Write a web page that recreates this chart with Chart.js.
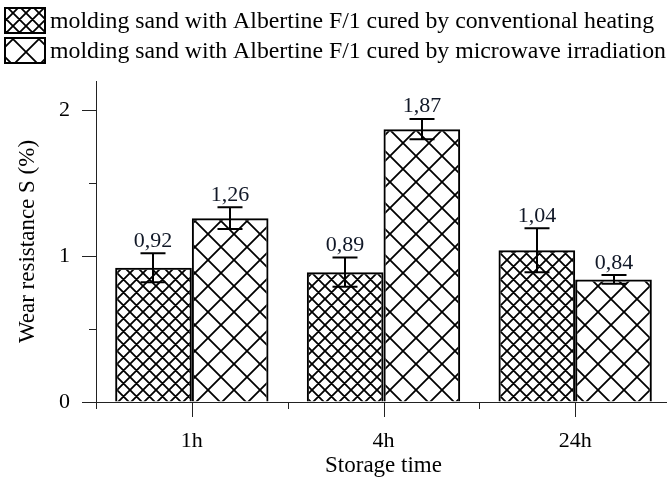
<!DOCTYPE html>
<html>
<head>
<meta charset="utf-8">
<script src="https://cdn.jsdelivr.net/npm/chart.js@4/dist/chart.umd.min.js"></script>
<style>
  html, body { margin: 0; padding: 0; background: #fff; overflow: hidden; }
  #wrap { width: 680px; height: 483px; }
</style>
</head>
<body>
<div id="wrap"><canvas id="chart" width="680" height="483"></canvas></div>
<script>
// storage times and measured wear resistance S (%)
const storageTimes = ["1h", "4h", "24h"];
const conventional = [0.92, 0.89, 1.04];
const microwave = [1.26, 1.87, 0.84];
const conventionalErr = [0.10, 0.10, 0.15];
const microwaveErr = [0.075, 0.07, 0.03];
const seriesLabels = [
    "molding sand with Albertine F/1 cured by conventional heating",
    "molding sand with Albertine F/1 cured by microwave irradiation"
];
const yTickLabels = ["0", "1", "2"];

const SERIF = "'Liberation Serif', 'Times New Roman', serif";

function makeTile(size) {
    const c = document.createElement("canvas");
    c.width = size;
    c.height = size;
    const g = c.getContext("2d");
    g.strokeStyle = "#000";
    g.lineWidth = 1.8;
    g.beginPath();
    for (let k = -1; k <= 1; k++) {
        g.moveTo(-2 + k * size, -2);
        g.lineTo(size + 2 + k * size, size + 2);
        g.moveTo(size + 2 + k * size, -2);
        g.lineTo(-2 + k * size, size + 2);
    }
    g.stroke();
    return c;
}

const ctx = document.getElementById("chart").getContext("2d");
const fineHatch = ctx.createPattern(makeTile(13), "repeat");
const wideHatch = ctx.createPattern(makeTile(26), "repeat");

const errors = [conventionalErr, microwaveErr];

// axis ticks: long at labelled values, short in between
const axisTicks = {
    id: "axisTicks",
    afterDraw(chart) {
        const { ctx, scales: { x, y }, chartArea } = chart;
        ctx.save();
        ctx.strokeStyle = "#222";
        ctx.lineWidth = 1;
        ctx.beginPath();
        for (let v = 0; v <= 2; v += 0.5) {
            const py = Math.round(y.getPixelForValue(v)) + 0.5;
            const len = Number.isInteger(v) ? 14 : 7;
            ctx.moveTo(chartArea.left - len, py);
            ctx.lineTo(chartArea.left, py);
        }
        const n = storageTimes.length;
        for (let i = 0; i < n; i++) {
            const px = Math.round(x.getPixelForValue(i)) + 0.5;
            ctx.moveTo(px, chartArea.bottom);
            ctx.lineTo(px, chartArea.bottom + 15);
        }
        for (let i = 0; i <= n; i++) {
            const px = Math.round(x.getPixelForValue(i - 0.5)) + 0.5;
            ctx.moveTo(px, chartArea.bottom);
            ctx.lineTo(px, chartArea.bottom + 7);
        }
        ctx.stroke();
        ctx.restore();
    }
};

// error bars and value labels
const errorBars = {
    id: "errorBars",
    afterDatasetsDraw(chart) {
        const { ctx, scales: { y } } = chart;
        ctx.save();
        chart.data.datasets.forEach((ds, di) => {
            const meta = chart.getDatasetMeta(di);
            meta.data.forEach((bar, i) => {
                const v = ds.data[i];
                const e = errors[di][i];
                const top = y.getPixelForValue(v + e);
                const bot = y.getPixelForValue(v - e);
                const cx = Math.round(bar.x);
                ctx.strokeStyle = "#000";
                ctx.lineWidth = 2;
                ctx.beginPath();
                ctx.moveTo(cx, top);
                ctx.lineTo(cx, bot);
                ctx.moveTo(cx - 12.5, top);
                ctx.lineTo(cx + 12.5, top);
                ctx.moveTo(cx - 12.5, bot);
                ctx.lineTo(cx + 12.5, bot);
                ctx.stroke();
                ctx.fillStyle = "#111827";
                ctx.font = "22px " + SERIF;
                ctx.textAlign = "center";
                ctx.textBaseline = "alphabetic";
                ctx.fillText(v.toFixed(2).replace(".", ","), cx, top - 6.5);
            });
        });
        ctx.restore();
    }
};

// legend in the top-left corner, one row per series
const boxLegend = {
    id: "boxLegend",
    afterDraw(chart) {
        const { ctx } = chart;
        ctx.save();
        chart.data.datasets.forEach((ds, i) => {
            const bx = 5, by = 8 + i * 30, bw = 40, bh = 25;
            ctx.fillStyle = ds.backgroundColor;
            ctx.fillRect(bx, by, bw, bh);
            ctx.strokeStyle = "#000";
            ctx.lineWidth = 2;
            ctx.strokeRect(bx, by, bw, bh);
            ctx.fillStyle = "#000";
            ctx.font = "23.8px " + SERIF;
            ctx.textAlign = "left";
            ctx.textBaseline = "middle";
            ctx.fillText(ds.label, bx + bw + 5, by + bh / 2 + 1);
        });
        ctx.restore();
    }
};

new Chart(ctx, {
    type: "bar",
    data: {
        labels: storageTimes,
        datasets: [
            {
                label: seriesLabels[0],
                data: conventional,
                backgroundColor: fineHatch,
                borderColor: "#000",
                borderWidth: 2
            },
            {
                label: seriesLabels[1],
                data: microwave,
                backgroundColor: wideHatch,
                borderColor: "#000",
                borderWidth: 2
            }
        ]
    },
    options: {
        responsive: false,
        animation: false,
        layout: { padding: { left: 0, top: 81, right: 9, bottom: 0 } },
        datasets: {
            bar: { barPercentage: 1, categoryPercentage: 0.8, borderSkipped: "bottom" }
        },
        plugins: {
            legend: { display: false },
            tooltip: { enabled: false }
        },
        scales: {
            x: {
                afterFit(scale) { scale.height = 81; },
                grid: { drawOnChartArea: false, tickLength: 15, tickColor: "rgba(0,0,0,0)" },
                border: { color: "#222", width: 1 },
                ticks: { color: "#000", padding: 11, font: { family: SERIF, size: 22 } },
                title: {
                    display: true,
                    text: "Storage time",
                    color: "#000",
                    padding: { top: 0, bottom: 3 },
                    font: { family: SERIF, size: 23 }
                }
            },
            y: {
                min: 0,
                max: 2.2,
                afterFit(scale) { scale.width = 96; },
                grid: { drawOnChartArea: false, tickLength: 14, tickColor: "rgba(0,0,0,0)" },
                border: { color: "#222", width: 1 },
                ticks: {
                    stepSize: 1,
                    color: "#000",
                    padding: 12,
                    font: { family: SERIF, size: 22 },
                    callback: (v) => yTickLabels.includes(String(v)) ? String(v) : ""
                },
                title: {
                    display: true,
                    text: "Wear resistance S (%)",
                    color: "#000",
                    padding: { top: 14, bottom: 0 },
                    font: { family: SERIF, size: 23 }
                }
            }
        }
    },
    plugins: [axisTicks, errorBars, boxLegend]
});
</script>
</body>
</html>
